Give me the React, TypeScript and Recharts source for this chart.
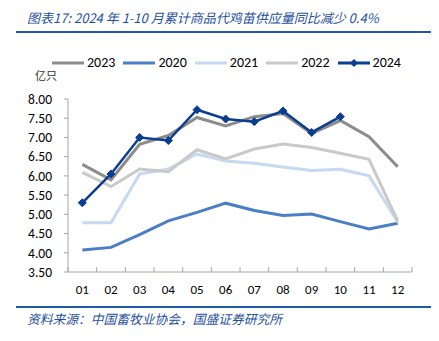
import { LineChart, Line, XAxis, YAxis } from "recharts";

const months = ["01", "02", "03", "04", "05", "06", "07", "08", "09", "10", "11", "12"];
const monthNums = [1, 2, 3, 4, 5, 6, 7, 8, 9, 10, 11, 12];
const boundaries = [0.5, 1.5, 2.5, 3.5, 4.5, 5.5, 6.5, 7.5, 8.5, 9.5, 10.5, 11.5, 12.5];

const s2023 = [6.3, 5.9, 6.82, 7.05, 7.52, 7.3, 7.54, 7.62, 7.1, 7.44, 7.02, 6.24];
const s2020 = [4.07, 4.14, 4.47, 4.83, 5.05, 5.29, 5.1, 4.97, 5.01, 4.81, 4.62, 4.77];
const s2021 = [4.78, 4.78, 6.05, 6.18, 6.57, 6.39, 6.33, 6.23, 6.14, 6.17, 6.0, 4.8];
const s2022 = [6.09, 5.72, 6.18, 6.11, 6.68, 6.44, 6.7, 6.83, 6.74, 6.59, 6.43, 4.83];
const s2024 = [5.3, 6.05, 7.0, 6.92, 7.72, 7.48, 7.41, 7.69, 7.13, 7.54];

const yTicks = [3.5, 4.0, 4.5, 5.0, 5.5, 6.0, 6.5, 7.0, 7.5, 8.0];

const data = monthNums.map((m, i) => ({
  m,
  y2023: s2023[i],
  y2020: s2020[i],
  y2021: s2021[i],
  y2022: s2022[i],
  y2024: i < s2024.length ? s2024[i] : null,
}));

const legendItems = [
  { name: "2023", color: "#8c8c8c", marker: false },
  { name: "2020", color: "#4a7fc7", marker: false },
  { name: "2021", color: "#c5d9f1", marker: false },
  { name: "2022", color: "#c9c9c9", marker: false },
  { name: "2024", color: "#0b3d91", marker: true },
];

const AXIS = "#a6a6a6";
const FONT = "Calibri, Carlito, 'Liberation Sans', Arial, sans-serif";

function MonthTick(props: any) {
  const { x, y, payload } = props;
  const v = payload.value as number;
  if (Number.isInteger(v)) {
    return (
      <text x={x} y={y + 22} textAnchor="middle" fontSize={13} fill="#000" fontFamily={FONT}>
        {months[v - 1]}
      </text>
    );
  }
  return <line x1={x} x2={x} y1={y} y2={y - 5} stroke={AXIS} strokeWidth={1} />;
}

function Diamond(props: any) {
  const { cx, cy } = props;
  if (cx == null || cy == null) return null;
  const r = 4;
  return (
    <path
      d={`M${cx},${cy - r}L${cx + r},${cy}L${cx},${cy + r}L${cx - r},${cy}Z`}
      fill="#0b3d91"
      stroke="#0b3d91"
    />
  );
}

function ChartLegend() {
  return (
    <div
      style={{
        position: "absolute",
        left: 52,
        top: 55,
        display: "flex",
        alignItems: "center",
        fontFamily: FONT,
        fontSize: 14,
        lineHeight: "16px",
      }}
    >
      {legendItems.map((it) => (
        <div key={it.name} style={{ display: "flex", alignItems: "center", marginRight: 8 }}>
          <svg width={32} height={10} style={{ marginRight: 3 }}>
            <line x1={0} x2={32} y1={5} y2={5} stroke={it.color} strokeWidth={3} />
            {it.marker && <path d="M16,1L20,5L16,9L12,5Z" fill={it.color} />}
          </svg>
          <span>{it.name}</span>
        </div>
      ))}
    </div>
  );
}

export default function App() {
  return (
    <div style={{ position: "absolute", left: 0, top: 0, width: 439, height: 341, background: "#fff" }}>
      <div
        style={{
          position: "absolute",
          left: 27,
          top: 8,
          fontFamily: "'Noto Sans CJK SC', sans-serif",
          fontStyle: "italic",
          fontSize: 13,
          color: "#1f4fa0",
          whiteSpace: "nowrap",
        }}
      >
        图表17:  2024 年 1-10 月累计商品代鸡苗供应量同比减少 0.4%
      </div>
      <div style={{ position: "absolute", left: 16, top: 31, width: 415, height: 2, background: "#1f5aa8" }} />
      <ChartLegend />
      <div
        style={{
          position: "absolute",
          left: 35,
          top: 67,
          fontFamily: "'Noto Sans CJK SC', sans-serif",
          fontSize: 11,
          color: "#333",
        }}
      >
        亿只
      </div>
      <LineChart
        width={439}
        height={341}
        data={data}
        margin={{ top: 99, right: 27, bottom: 49, left: 3 }}
        style={{ position: "absolute", left: 0, top: 0 }}
      >
        <XAxis
          dataKey="m"
          type="number"
          domain={[0.5, 12.5]}
          ticks={boundaries.concat(monthNums).sort((a, b) => a - b)}
          interval={0}
          tickLine={false}
          tickSize={0}
          tickMargin={0}
          tick={<MonthTick />}
          axisLine={{ stroke: AXIS }}
          height={20}
          allowDataOverflow
        />
        <YAxis
          domain={[3.5, 8]}
          ticks={yTicks}
          interval={0}
          tickFormatter={(v: number) => v.toFixed(2)}
          tick={{ fontSize: 13.5, fill: "#000", fontFamily: FONT }}
          tickSize={4}
          tickMargin={12}
          axisLine={{ stroke: AXIS }}
          tickLine={{ stroke: AXIS }}
          width={65}
          allowDataOverflow
        />
        <Line dataKey="y2020" stroke="#4a7fc7" strokeWidth={3} dot={false} isAnimationActive={false} />
        <Line dataKey="y2021" stroke="#c5d9f1" strokeWidth={3} dot={false} isAnimationActive={false} />
        <Line dataKey="y2022" stroke="#c9c9c9" strokeWidth={3} dot={false} isAnimationActive={false} />
        <Line dataKey="y2023" stroke="#8c8c8c" strokeWidth={3} dot={false} isAnimationActive={false} />
        <Line
          dataKey="y2024"
          stroke="#0b3d91"
          strokeWidth={2.5}
          dot={<Diamond />}
          activeDot={false}
          isAnimationActive={false}
        />
      </LineChart>
      <div style={{ position: "absolute", left: 16, top: 306, width: 415, height: 2, background: "#1f5aa8" }} />
      <div
        style={{
          position: "absolute",
          left: 27,
          top: 309,
          fontFamily: "'Noto Sans CJK SC', sans-serif",
          fontStyle: "italic",
          fontSize: 12.75,
          color: "#1f4fa0",
          whiteSpace: "nowrap",
        }}
      >
        资料来源：中国畜牧业协会，国盛证券研究所
      </div>
    </div>
  );
}
